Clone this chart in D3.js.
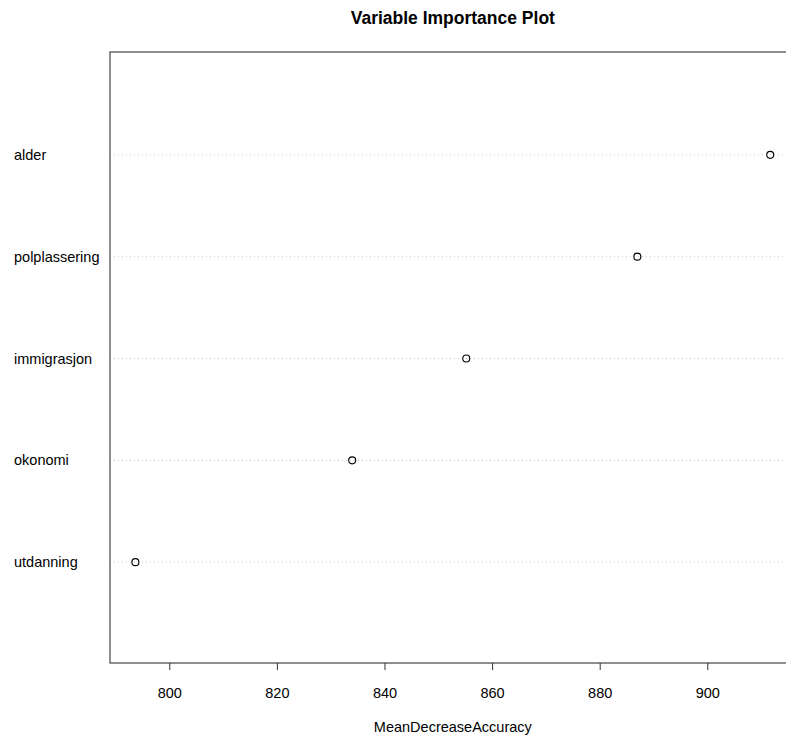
<!DOCTYPE html>
<html lang="en">
<head>
	<meta charset="UTF-8"/>
	<title>Variable Importance Plot</title>
	<script src="https://d3js.org/d3.v7.min.js"></script>
	<style>
		body { margin: 0; background: #fff; }
		text { font-family: "Liberation Sans", Arial, sans-serif; fill: #000; }
	</style>
</head>
<body>
	<script>
		var w = 786;
		var h = 736;

		// variables, top to bottom
		var variables = ["alder", "polplassering", "immigrasjon", "okonomi", "utdanning"];
		var importance = [911.7, 887.0, 855.2, 834.0, 793.7];
		var tickValues = [800, 820, 840, 860, 880, 900];

		var plotLeft = 110, plotTop = 52, plotBottom = 663;
		var pxPerUnit = 5.38;

		// R style 4% padding on the x range
		var xmin = d3.min(importance), xmax = d3.max(importance);
		var pad = (xmax - xmin) * 0.04;
		var plotRight = plotLeft + (xmax - xmin + 2 * pad) * pxPerUnit;

		var xScale = d3.scaleLinear()
					.domain([xmin - pad, xmax + pad])
					.range([plotLeft, plotRight]);

		var yScale = d3.scaleLinear()
					.domain([0, variables.length + 1])
					.range([plotBottom + 1, plotTop + 1]);

		var svg = d3.select("body")
					.append("svg")
					.attr("width", w)
					.attr("height", h);

		// title
		svg.append("text")
			.attr("x", (plotLeft + plotRight) / 2)
			.attr("y", 24)
			.attr("text-anchor", "middle")
			.style("font-size", "17.5px")
			.style("font-weight", "bold")
			.text("Variable Importance Plot");

		// dotted guide lines
		svg.selectAll("line.guide")
			.data(variables)
			.enter()
			.append("line")
			.attr("class", "guide")
			.attr("x1", plotLeft)
			.attr("x2", plotRight)
			.attr("y1", function(d, i){ return yScale(variables.length - i); })
			.attr("y2", function(d, i){ return yScale(variables.length - i); })
			.attr("stroke", "#c8c8c8")
			.attr("stroke-width", 1)
			.attr("stroke-dasharray", "1,3");

		// labels
		svg.selectAll("text.lab")
			.data(variables)
			.enter()
			.append("text")
			.attr("class", "lab")
			.attr("x", 14)
			.attr("y", function(d, i){ return yScale(variables.length - i); })
			.attr("dy", "0.35em")
			.style("font-size", "14.5px")
			.text(function(d){ return d; });

		// points
		svg.selectAll("circle")
			.data(importance)
			.enter()
			.append("circle")
			.attr("cx", function(d){ return xScale(d); })
			.attr("cy", function(d, i){ return yScale(variables.length - i); })
			.attr("r", 3.5)
			.attr("fill", "none")
			.attr("stroke", "#000")
			.attr("stroke-width", 1.1);

		// box
		svg.append("rect")
			.attr("x", plotLeft)
			.attr("y", plotTop)
			.attr("width", plotRight - plotLeft)
			.attr("height", plotBottom - plotTop)
			.attr("fill", "none")
			.attr("stroke", "#444")
			.attr("stroke-width", 1.2);

		// x axis
		var xAxis = d3.axisBottom(xScale)
					.tickValues(tickValues)
					.tickSize(7)
					.tickPadding(18)
					.tickFormat(d3.format("d"));

		var gx = svg.append("g")
			.attr("transform", "translate(0," + plotBottom + ")")
			.call(xAxis);
		gx.select(".domain").remove();
		gx.selectAll("line").attr("stroke", "#333");
		gx.selectAll("text")
			.style("font-size", "14.5px")
			.style("font-family", "Liberation Sans, Arial, sans-serif")
			.attr("fill", "#000");

		// x axis title
		svg.append("text")
			.attr("x", (plotLeft + plotRight) / 2)
			.attr("y", 732)
			.attr("text-anchor", "middle")
			.style("font-size", "14.5px")
			.text("MeanDecreaseAccuracy");
	</script>
</body>
</html>
